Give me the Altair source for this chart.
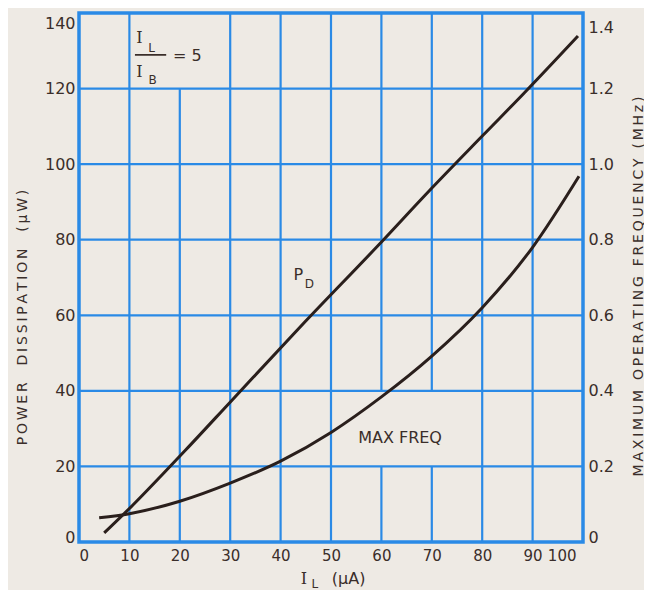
import altair as alt
import pandas as pd

# ---- data ----
pd_x = [5.0, 10.7, 16.5, 21.2, 30.4, 44.8, 59.3, 69.6, 80.2, 88.1, 99.0]
pd_y = [2.4, 9.8, 17.8, 24.4, 37.6, 58.2, 78.4, 93.1, 107.7, 118.5, 133.9]

mf_x = [4, 10, 20, 30, 40, 50, 60, 70, 80, 90, 99.2]
mf_y = [0.064, 0.075, 0.108, 0.156, 0.214, 0.290, 0.384, 0.492, 0.620, 0.780, 0.968]

x_ticks = [0, 10, 20, 30, 40, 50, 60, 70, 80, 90, 100]
left_ticks = [0, 20, 40, 60, 80, 100, 120, 140]
right_ticks = [0, 0.2, 0.4, 0.6, 0.8, 1.0, 1.2, 1.4]

# grid cells left blank in the original (x, y_from, y_to)
grid_gaps = [(20, 120, 140), (60, 20, 40), (70, 20, 40)]

# annotation texts (data coordinates)
ann_text = ["L", "B", "= 5", "P", "D", "MAX FREQ", "L", "(μA)"]
ann_x = [14.4, 14.6, 21.5, 43.5, 45.7, 63.7, 46.8, 53.5]
ann_y = [130.8, 122.3, 128.6, 70.6, 68.2, 27.5, -11.0, -9.8]
ann_size = [12, 12, 16, 16, 12, 16, 12, 16]

serif_text = ["I", "I", "I"]
serif_x = [12.0, 12.0, 44.6]
serif_y = [133.4, 124.4, -9.8]

frac_x1 = [11.1]
frac_x2 = [17.3]
frac_y = [128.9]

left_title = ["POWER", "DISSIPATION", "(μW)"]
right_title = ["MAXIMUM", "OPERATING", "FREQUENCY", "(MHz)"]


def spaced(words, gap):
    # wide lettering: thin space between letters, wide gap between words
    return gap.join("\u2009".join(w) for w in words)


# ---- build tables ----
df_pd = pd.DataFrame({"x": pd_x, "y": pd_y})
df_mf = pd.DataFrame({"x": mf_x, "y": mf_y})

vseg = []
for xv in x_ticks[1:-1]:
    cuts = sorted([(a, b) for (g, a, b) in grid_gaps if g == xv])
    start = left_ticks[0]
    for a, b in cuts:
        vseg.append({"x": xv, "y1": start, "y2": a})
        start = b
    vseg.append({"x": xv, "y1": start, "y2": left_ticks[-1]})
df_v = pd.DataFrame(vseg)
df_h = pd.DataFrame({"y": left_ticks[1:-1], "x1": x_ticks[0], "x2": x_ticks[-1]})
df_ann = pd.DataFrame({"t": ann_text, "x": ann_x, "y": ann_y, "s": ann_size})
df_serif = pd.DataFrame({"t": serif_text, "x": serif_x, "y": serif_y})
df_frac = pd.DataFrame({"x1": frac_x1, "x2": frac_x2, "y": frac_y})

# ---- styling ----
BLUE = "#2a8ae6"
INK = "#2a1f1c"
TXT = "#3a2e2a"
FONT = "DejaVu Sans"

xs = alt.Scale(domain=[0, 100], nice=False, zero=False)
yls = alt.Scale(domain=[0, 140], nice=False)
yrs = alt.Scale(domain=[0, 1.4], nice=False)

x_axis = alt.Axis(values=x_ticks, title=None, grid=False, ticks=False, domain=False,
                  labelFontSize=15, labelPadding=6, labelColor=TXT, labelFont=FONT,
                  labelOffset={"condition": {"test": "datum.value == 100", "value": -7}, "value": 0})

y_left_axis = alt.Axis(orient="left", values=left_ticks, grid=False, ticks=False, domain=False,
                       labelFontSize=16, labelPadding=4, labelColor=TXT, labelFont=FONT,
                       labelOffset={"condition": [{"test": "datum.value == 140", "value": 10},
                                                  {"test": "datum.value == 0", "value": -5}], "value": 0},
                       title=spaced(left_title, "\u2003\u2009"), titleFontSize=14, titleFont=FONT,
                       titleFontWeight="normal", titleColor=TXT, titleAngle=270,
                       titleAlign="center", titleBaseline="middle", titleX=-57, titleY=304)

y_right_axis = alt.Axis(orient="right", values=right_ticks, grid=False, ticks=False, domain=False,
                        labelFontSize=16, labelPadding=5, labelColor=TXT, labelFont=FONT,
                        labelExpr="datum.value == 0 ? '0' : format(datum.value, '.1f')",
                        labelOffset={"condition": [{"test": "datum.value == 1.4", "value": 14},
                                                   {"test": "datum.value == 0", "value": -5}], "value": 0},
                        title=spaced(right_title, "\u2002\u2009"), titleFontSize=14, titleFont=FONT,
                        titleFontWeight="normal", titleColor=TXT, titleAngle=270,
                        titleAlign="center", titleBaseline="middle", titleX=55, titleY=273)

grid_v = alt.Chart(df_v).mark_rule(color=BLUE, strokeWidth=2.2).encode(
    x=alt.X("x:Q", scale=xs, axis=x_axis),
    y=alt.Y("y1:Q", scale=yls, axis=None),
    y2="y2:Q",
)
grid_h = alt.Chart(df_h).mark_rule(color=BLUE, strokeWidth=2.2).encode(
    x=alt.X("x1:Q", scale=xs, axis=x_axis),
    x2="x2:Q",
    y=alt.Y("y:Q", scale=yls, axis=None),
)
ann = alt.Chart(df_ann).mark_text(color=TXT, font=FONT, align="center", baseline="middle").encode(
    x=alt.X("x:Q", scale=xs, axis=x_axis),
    y=alt.Y("y:Q", scale=yls, axis=None),
    text="t:N",
    size=alt.Size("s:Q", scale=None, legend=None),
)
serif = alt.Chart(df_serif).mark_text(color=TXT, font="DejaVu Serif", fontSize=16,
                                      align="center", baseline="middle").encode(
    x=alt.X("x:Q", scale=xs, axis=x_axis),
    y=alt.Y("y:Q", scale=yls, axis=None),
    text="t:N",
)
frac = alt.Chart(df_frac).mark_rule(color=TXT, strokeWidth=1.8).encode(
    x=alt.X("x1:Q", scale=xs, axis=x_axis),
    x2="x2:Q",
    y=alt.Y("y:Q", scale=yls, axis=None),
)
pd_line = alt.Chart(df_pd).mark_line(color=INK, strokeWidth=3, interpolate="monotone").encode(
    x=alt.X("x:Q", scale=xs, axis=x_axis),
    y=alt.Y("y:Q", scale=yls, axis=y_left_axis),
)
mf_line = alt.Chart(df_mf).mark_line(color=INK, strokeWidth=3, interpolate="monotone").encode(
    x=alt.X("x:Q", scale=xs, axis=x_axis),
    y=alt.Y("y:Q", scale=yrs, axis=y_right_axis),
)

chart = alt.layer(grid_v, grid_h, ann, serif, frac, pd_line, mf_line).resolve_scale(
    y="independent"
).properties(
    width=504, height=529,
    autosize=alt.AutoSizeParams(type="none"),
    padding={"left": 71, "top": 5, "right": 61, "bottom": 48},
    background="#eeeae4",
).configure_view(stroke=BLUE, strokeWidth=3.5, fill=None)

chart.save("out.html", embed_options={"renderer": "svg", "actions": False})
